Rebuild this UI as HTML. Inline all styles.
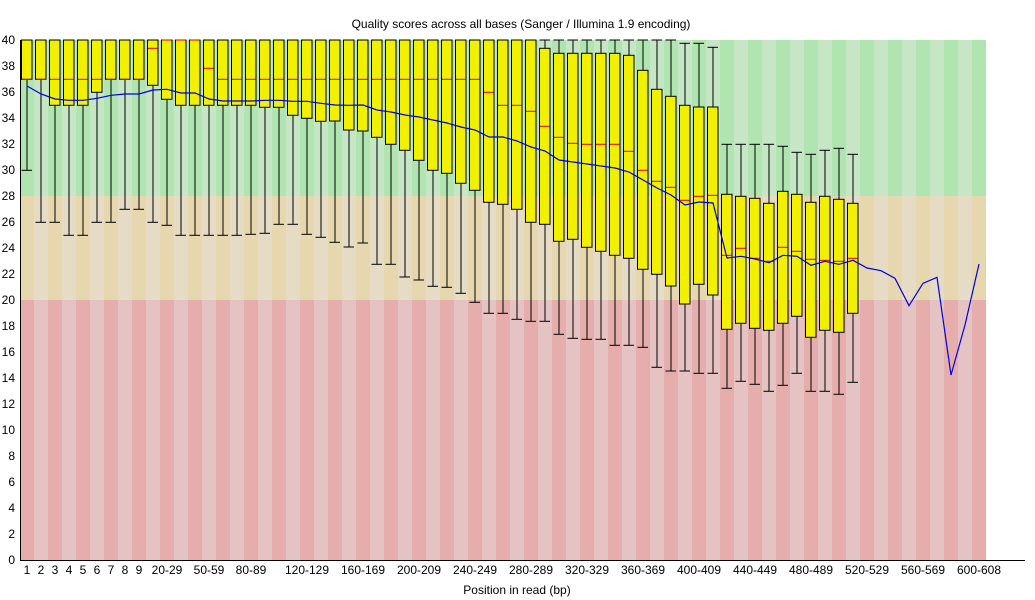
<!DOCTYPE html>
<html><head><meta charset="utf-8"><style>
html,body{margin:0;padding:0;background:#fff;}
svg{display:block;font-family:"Liberation Sans",sans-serif;}
</style></head><body>
<svg id="s" width="1035" height="600" xmlns="http://www.w3.org/2000/svg"></svg>
<script>
(function(){
var s=document.getElementById('s');var h='';
var N=69,X0=20,W=14;
function yv(v){return 560-13*v;}
for(var i=0;i<N;i++){var x=X0+i*W,d=i%2==0;
h+='<rect x="'+x+'" y="40" width="'+W+'" height="156" fill="'+(d?'#b0e4b0':'#c6e6c6')+'"/>';
h+='<rect x="'+x+'" y="196" width="'+W+'" height="104" fill="'+(d?'#e6d7af':'#e6dcc6')+'"/>';
h+='<rect x="'+x+'" y="300" width="'+W+'" height="260" fill="'+(d?'#e6adad':'#e6c3c3')+'"/>';}
var Q1a=[79.3,79.3,105.3,105.3,105.3,92.3,79.3,79.3,79.3,85.3,99.3,105.3,105.3,105.3,105.3,105.3,105.3,107.3,107.3,115.3,118.3,121.3,121,130,131,137.3,144.3,150.3,160.3,170.3,173.3,183.3,190.3,202.3,204.3,209.3,222.3,224.3,241.3,239.3,247.3,251.3,255.3,258.3,269.3,274.3,286,304,284.3,295,329.3,323.3,328.3,330.3,323.3,316.3,337.3,330.3,332.3,313.3];
var LOa=[170.3,222.3,222.3,235.3,235.3,222.3,222.3,209.3,209.3,222.3,225.3,235.3,235.3,235.3,235.3,235.3,234.3,233.3,224.3,224.3,234.3,237.3,242.3,247,243,264.3,264.3,277,280,286.3,287.3,293.3,302.3,313.3,313.3,319.3,321.3,321.3,334.3,338.3,339.3,339.3,345.3,345.3,347.3,367.3,371,371,373.3,373.3,388.3,381.3,384.3,391.3,385.3,373.3,391.3,391.3,394.3,382.3];
var MEDa=[79.3,79.3,79.3,79.3,79.3,79.3,79.3,79.3,79.3,48.3,40,40,40,68.3];
for(var i=14;i<33;i++)MEDa[i]=79.3;
MEDa.push(92.3,105.3,105.3,111.3,126.3,137.3,143.3,144.3,144.3,144.3,151.3,170.3,181.3,187.3,200.3,196.3,195.3,255.3,248.3,258.3,261.3,247.3,251.3,259.3,260.3,261.3,258.3);
var Q3a=[];for(var i=0;i<37;i++)Q3a[i]=40;
Q3a.push(48.3,53.3,53.3,53.3,53.3,53.3,55.3,70.3,89.3,96.3,105.3,107,107,194.3,196.3,198.3,203.3,191.3,194.3,202.3,196.3,199.3,203.3);
var TOPa=[];for(var i=0;i<47;i++)TOPa[i]=40;
TOPa.push(43.3,43.3,47.3,144.3,144.3,144.3,144.3,146.3,152.3,154.3,150.3,148.3,154.3);
for(var i=0;i<60;i++){var x=X0+i*W,c=x+7;
h+='<line x1="'+c+'" y1="'+TOPa[i]+'" x2="'+c+'" y2="'+LOa[i]+'" stroke="#000" stroke-width="1"/>';
h+='<line x1="'+(x+1.5)+'" y1="'+TOPa[i]+'" x2="'+(x+12)+'" y2="'+TOPa[i]+'" stroke="#000"/>';
h+='<line x1="'+(x+1.5)+'" y1="'+LOa[i]+'" x2="'+(x+12)+'" y2="'+LOa[i]+'" stroke="#000"/>';
h+='<rect x="'+(x+1.5)+'" y="'+Q3a[i]+'" width="10.5" height="'+(Q1a[i]-Q3a[i])+'" fill="#f0f000" stroke="#000" stroke-width="1"/>';
h+='<line x1="'+(x+2)+'" y1="'+MEDa[i]+'" x2="'+(x+11.5)+'" y2="'+MEDa[i]+'" stroke="#e00000" stroke-width="1"/>';}
var MEAN=[86,94,99,100.3,100.3,98.3,95.3,94,94,90,89.3,93,93,99,101,101,101,100.3,100.3,101.3,101.3,103.3,105,105.3,105,110,112,115,117,120,123,127,130,137,137,141,147,151,160,162,164,166,168,172,180,188,195,205,202,203,258,256.3,259,262.7,255.3,256.3,265.3,261.3,264.3,260.3,268,270.7,278.3,305.7,283.3,277.3,375,325,264];
var p=[];for(var i=0;i<MEAN.length;i++)p.push((X0+i*W+7)+','+MEAN[i]);
h+='<polyline points="'+p.join(' ')+'" fill="none" stroke="#0000e0" stroke-width="1.2"/>';
h+='<line x1="20.5" y1="40" x2="20.5" y2="560" stroke="#000"/>';
h+='<line x1="20" y1="560.5" x2="1025" y2="560.5" stroke="#000"/>';
for(var v=0;v<=40;v+=2)h+='<text x="15" y="'+(yv(v)+4)+'" font-size="12" text-anchor="end">'+v+'</text>';
var labs={0:'1',1:'2',2:'3',3:'4',4:'5',5:'6',6:'7',7:'8',8:'9',10:'20-29',13:'50-59',16:'80-89',20:'120-129',24:'160-169',28:'200-209',32:'240-249',36:'280-289',40:'320-329',44:'360-369',48:'400-409',52:'440-449',56:'480-489',60:'520-529',64:'560-569',68:'600-608'};
for(var k in labs)h+='<text x="'+(X0+k*W+7)+'" y="574" font-size="12" text-anchor="middle">'+labs[k]+'</text>';
h+='<text x="521" y="28" font-size="12" text-anchor="middle">Quality scores across all bases (Sanger / Illumina 1.9 encoding)</text>';
h+='<text x="517" y="594" font-size="12" text-anchor="middle">Position in read (bp)</text>';
s.innerHTML=h;
})();
</script>
</body></html>
